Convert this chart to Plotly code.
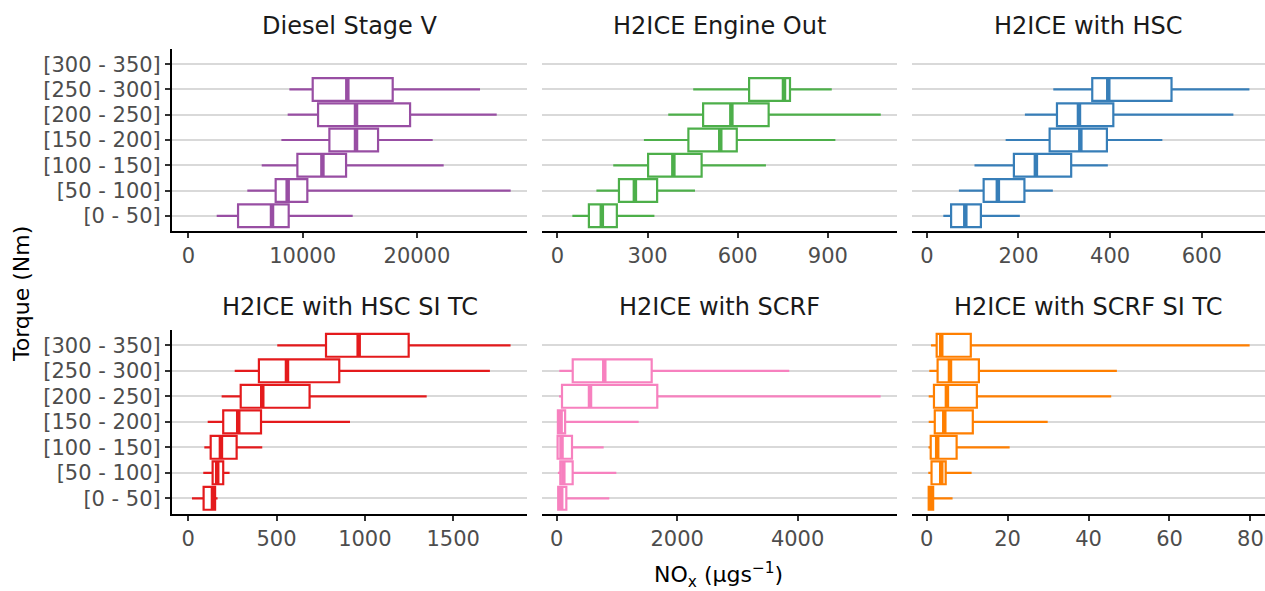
import plotly.graph_objects as go

# ---------------- data ----------------
torque_labels = ["[0 - 50]", "[50 - 100]", "[100 - 150]", "[150 - 200]",
                 "[200 - 250]", "[250 - 300]", "[300 - 350]"]

panel_titles = ["Diesel Stage V", "H2ICE Engine Out", "H2ICE with HSC",
                "H2ICE with HSC SI TC", "H2ICE with SCRF", "H2ICE with SCRF SI TC"]

panel_colors = ["#984EA3", "#4DAF4A", "#377EB8", "#E41A1C", "#F781BF", "#FF7F00"]

# per category index: lower whisker, q1, median, q3, upper whisker
diesel_low = [2480, 5160, 6420, 8140, 8690, 8840]
diesel_q1 = [4350, 7640, 9540, 12340, 11350, 10880]
diesel_med = [7320, 8690, 11730, 14670, 14670, 13910]
diesel_q3 = [8780, 10410, 13800, 16600, 19400, 17880]
diesel_high = [14380, 28200, 22340, 21380, 26980, 25520]

eo_low = [50, 130, 186, 288, 369, 452]
eo_q1 = [105, 205, 302, 436, 485, 638]
eo_med = [148, 258, 386, 542, 579, 754]
eo_q3 = [198, 332, 480, 597, 703, 774]
eo_high = [323, 458, 694, 925, 1076, 913]

hsc_low = [36, 70, 104, 172, 214, 276]
hsc_q1 = [53, 124, 190, 268, 284, 361]
hsc_med = [84, 155, 238, 335, 332, 396]
hsc_q3 = [118, 213, 315, 393, 407, 534]
hsc_high = [203, 275, 395, 514, 669, 704]

hscsi_low = [21, 85, 91, 110, 189, 263, 504]
hscsi_q1 = [87, 138, 127, 198, 297, 400, 780]
hscsi_med = [140, 164, 185, 283, 419, 559, 965]
hscsi_q3 = [152, 198, 274, 412, 687, 855, 1248]
hscsi_high = [166, 234, 419, 916, 1350, 1708, 1825]

scrf_low = [8, 20, 10, 10, 40, 43]
scrf_q1 = [25, 60, 15, 20, 88, 266]
scrf_med = [75, 110, 80, 65, 553, 790]
scrf_q3 = [160, 265, 254, 140, 1670, 1577]
scrf_high = [873, 990, 780, 1361, 5378, 3861]

scrfsi_low = [0.3, 0.4, 0.45, 0.5, 0.5, 0.65, 1.06]
scrfsi_q1 = [0.5, 1.2, 1.0, 2.0, 1.8, 2.7, 2.47]
scrfsi_med = [1.0, 3.6, 2.6, 4.35, 5.0, 5.76, 3.6]
scrfsi_q3 = [1.6, 4.7, 7.4, 11.4, 12.4, 12.9, 10.9]
scrfsi_high = [6.4, 11.1, 20.5, 29.9, 45.6, 47.0, 79.8]

x_tickvals = [[0, 10000, 20000], [0, 300, 600, 900], [0, 200, 400, 600],
              [0, 500, 1000, 1500], [0, 2000, 4000], [0, 20, 40, 60, 80]]
x_ranges = [[-1430, 29630], [-52, 1130], [-33, 738],
            [-92, 1918], [-249, 5650], [-3.7, 83.6]]

panels = [
    (diesel_low, diesel_q1, diesel_med, diesel_q3, diesel_high),
    (eo_low, eo_q1, eo_med, eo_q3, eo_high),
    (hsc_low, hsc_q1, hsc_med, hsc_q3, hsc_high),
    (hscsi_low, hscsi_q1, hscsi_med, hscsi_q3, hscsi_high),
    (scrf_low, scrf_q1, scrf_med, scrf_q3, scrf_high),
    (scrfsi_low, scrfsi_q1, scrfsi_med, scrfsi_q3, scrfsi_high),
]

# ---------------- layout geometry ----------------
W, H = 1265, 591
FONT = "DejaVu Sans"
x_px = [(172, 527), (541.7, 897), (911.7, 1265)]
y_px = [(49, 231), (330, 513.6)]
BOX_W = 0.9

fig = go.Figure()
layout = dict(
    width=W, height=H, margin=dict(l=0, r=0, t=0, b=0),
    paper_bgcolor="white", plot_bgcolor="white", showlegend=False,
    font=dict(family=FONT, color="#4D4D4D"),
)
annotations = []

for p in range(6):
    row, col = divmod(p, 3)
    idx = "" if p == 0 else str(p + 1)
    xa, ya = "x" + idx, "y" + idx
    low, q1, med, q3, high = panels[p]
    pos = list(range(len(med)))
    color = panel_colors[p]

    fig.add_trace(go.Box(
        y=pos, q1=q1, median=med, q3=q3, lowerfence=low, upperfence=high,
        orientation="h", fillcolor="white", line=dict(color=color, width=2.2),
        width=BOX_W, boxpoints=False, whiskerwidth=0,
        xaxis=xa, yaxis=ya, hoverinfo="skip",
    ))
    # thicker median bars, as in ggplot
    mx, my = [], []
    for i, m in enumerate(med):
        mx += [m, m, None]
        my += [i - BOX_W / 2, i + BOX_W / 2, None]
    fig.add_trace(go.Scatter(
        x=mx, y=my, mode="lines", line=dict(color=color, width=4.5),
        xaxis=xa, yaxis=ya, hoverinfo="skip",
    ))

    x0, x1 = x_px[col]
    y0, y1 = y_px[row]
    xdom = [x0 / W, x1 / W]
    ydom = [1 - y1 / H, 1 - y0 / H]
    left = col == 0

    layout["xaxis" + idx] = dict(
        domain=xdom, anchor=ya, range=x_ranges[p], tickvals=x_tickvals[p],
        tickformat="d", showgrid=False, zeroline=False,
        showline=True, linecolor="black", linewidth=2,
        ticks="outside", ticklen=5, tickwidth=2, tickcolor="#333333",
        tickfont=dict(family=FONT, size=21, color="#4D4D4D"),
    )
    layout["yaxis" + idx] = dict(
        domain=ydom, anchor=xa, range=[-0.6, 6.6],
        tickvals=list(range(7)), ticktext=torque_labels,
        showgrid=True, gridcolor="#D9D9D9", gridwidth=2, zeroline=False,
        showline=left, linecolor="black", linewidth=2,
        ticks="outside" if left else "", ticklen=5, tickwidth=2, tickcolor="#333333",
        showticklabels=left,
        tickfont=dict(family=FONT, size=21, color="#4D4D4D"),
    )
    annotations.append(dict(
        text=panel_titles[p], xref="paper", yref="paper",
        x=(x0 + x1) / 2 / W, y=1 - (y0 - 23) / H,
        xanchor="center", yanchor="middle", showarrow=False,
        font=dict(family=FONT, size=24, color="#1A1A1A"),
    ))

annotations.append(dict(
    text="Torque (Nm)", xref="paper", yref="paper", x=22 / W, y=1 - 294 / H,
    xanchor="center", yanchor="middle", textangle=-90, showarrow=False,
    font=dict(family=FONT, size=22, color="black"),
))
annotations.append(dict(
    text="NO<sub>x</sub> (μgs<sup>−1</sup>)", xref="paper", yref="paper",
    x=718.5 / W, y=1 - 575 / H, xanchor="center", yanchor="middle",
    showarrow=False, font=dict(family=FONT, size=22, color="black"),
))
layout["annotations"] = annotations
fig.update_layout(**layout)
fig.write_html("out.html")
